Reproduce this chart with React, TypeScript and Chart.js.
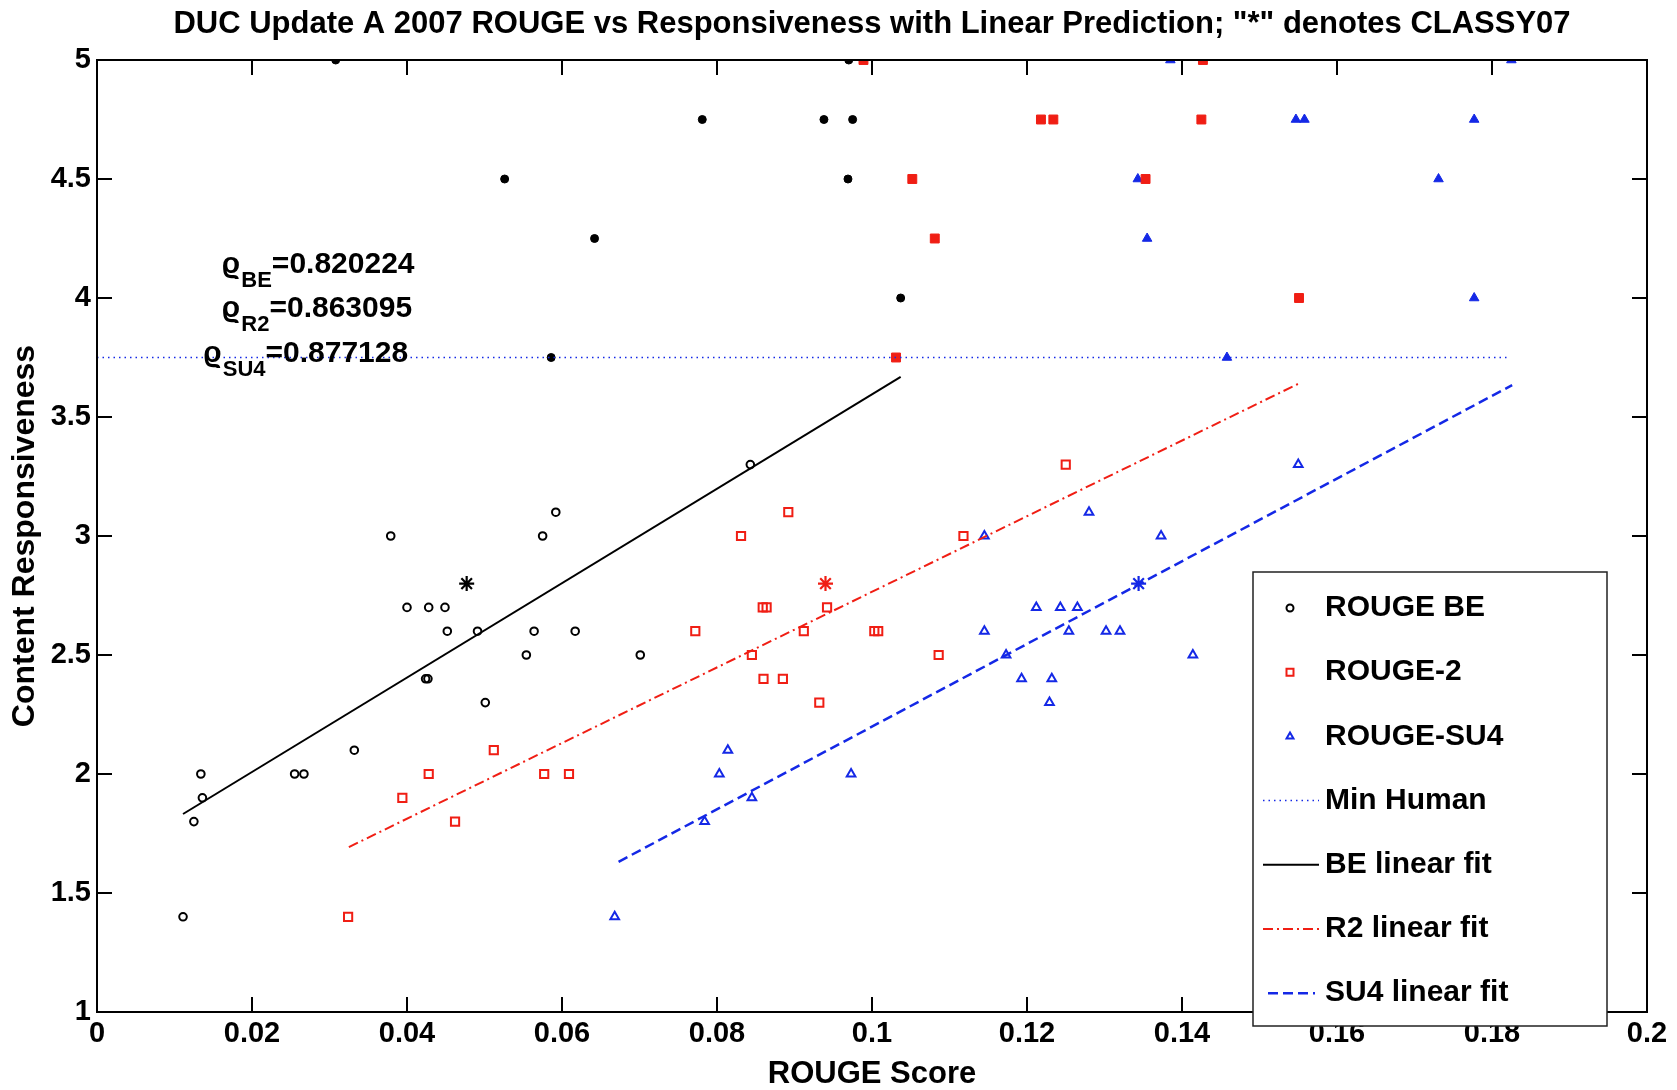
import React, { useEffect, useRef } from 'react';
import { Chart, registerables } from 'chart.js';

Chart.register(...registerables);

const FONT = "'Liberation Sans', Arial, Helvetica, 'DejaVu Sans', sans-serif";
const BLACK = '#000000';
const RED = '#f01e14';
const BLUE = '#1428e6';

// ---- data ----
const beOpenX = [0.0111, 0.0125, 0.0136, 0.0134, 0.0255, 0.0267, 0.0332, 0.0379, 0.04, 0.0428, 0.0449, 0.0424, 0.0427, 0.0452, 0.0491, 0.0501, 0.0554, 0.0564, 0.0575, 0.0592, 0.0617, 0.0701, 0.0843];
const beOpenY = [1.4, 1.8, 1.9, 2.0, 2.0, 2.0, 2.1, 3.0, 2.7, 2.7, 2.7, 2.4, 2.4, 2.6, 2.6, 2.3, 2.5, 2.6, 3.0, 3.1, 2.6, 2.5, 3.3];
const beHumanX = [0.0308, 0.097, 0.0781, 0.0938, 0.0975, 0.0526, 0.0969, 0.0642, 0.1037, 0.0586];
const beHumanY = [5, 5, 4.75, 4.75, 4.75, 4.5, 4.5, 4.25, 4.0, 3.75];

const r2OpenX = [0.0324, 0.0394, 0.0428, 0.0462, 0.0512, 0.0577, 0.0609, 0.0772, 0.0831, 0.0845, 0.086, 0.0859, 0.0864, 0.0885, 0.0892, 0.0912, 0.0932, 0.0942, 0.1003, 0.1008, 0.1086, 0.1118, 0.125];
const r2OpenY = [1.4, 1.9, 2.0, 1.8, 2.1, 2.0, 2.0, 2.6, 3.0, 2.5, 2.4, 2.7, 2.7, 2.4, 3.1, 2.6, 2.3, 2.7, 2.6, 2.6, 2.5, 3.0, 3.3];
const r2HumanX = [0.0989, 0.1427, 0.1218, 0.1234, 0.1425, 0.1052, 0.1353, 0.1081, 0.1551, 0.1031];
const r2HumanY = [5, 5, 4.75, 4.75, 4.75, 4.5, 4.5, 4.25, 4.0, 3.75];

const su4OpenX = [0.0668, 0.0784, 0.0803, 0.0814, 0.0845, 0.0973, 0.1145, 0.1145, 0.1173, 0.1193, 0.1212, 0.1229, 0.1232, 0.1243, 0.1254, 0.1265, 0.128, 0.1302, 0.132, 0.1373, 0.1414, 0.155];
const su4OpenY = [1.4, 1.8, 2.0, 2.1, 1.9, 2.0, 3.0, 2.6, 2.5, 2.4, 2.7, 2.3, 2.4, 2.7, 2.6, 2.7, 3.1, 2.6, 2.6, 3.0, 2.5, 3.3];
const su4HumanX = [0.1385, 0.1825, 0.1547, 0.1558, 0.1777, 0.1343, 0.1731, 0.1355, 0.1777, 0.1458];
const su4HumanY = [5, 5, 4.75, 4.75, 4.75, 4.5, 4.5, 4.25, 4.0, 3.75];

const classyX = [0.0477, 0.094, 0.1344];
const classyY = [2.8, 2.8, 2.8];

const beFitX = [0.0111, 0.1037];
const beFitY = [1.832, 3.669];
const r2FitX = [0.0325, 0.1551];
const r2FitY = [1.693, 3.641];
const su4FitX = [0.0673, 0.1826];
const su4FitY = [1.631, 3.634];
const minHumanX = [0, 0.1823];
const minHumanY = [3.75, 3.75];

const corrNames = ['BE', 'R2', 'SU4'];
const corrValues = ['0.820224', '0.863095', '0.877128'];
const corrAnchorX = [0.0161, 0.0161, 0.0137];
const corrAnchorY = [4.105, 3.92, 3.732];

const legendLabels = ['ROUGE BE', 'ROUGE-2', 'ROUGE-SU4', 'Min Human', 'BE linear fit', 'R2 linear fit', 'SU4 linear fit'];

const TITLE = 'DUC Update A 2007 ROUGE vs Responsiveness with Linear Prediction; "*" denotes CLASSY07';

function pts(xs: number[], ys: number[]) {
  return xs.map((x, i) => ({ x, y: ys[i] }));
}

function fmt(v: number) {
  return String(Number(v.toFixed(2)));
}

function drawMarker(ctx: CanvasRenderingContext2D, kind: string, x: number, y: number, color: string) {
  ctx.save();
  ctx.strokeStyle = color;
  ctx.lineWidth = 2;
  ctx.setLineDash([]);
  ctx.beginPath();
  if (kind === 'circle') {
    ctx.arc(x, y, 3.5, 0, Math.PI * 2);
  } else if (kind === 'rect') {
    ctx.rect(x - 3.5, y - 3.5, 7, 7);
  } else {
    const r = 4;
    ctx.moveTo(x, y - r);
    ctx.lineTo(x + r * 0.866, y + r * 0.5);
    ctx.lineTo(x - r * 0.866, y + r * 0.5);
    ctx.closePath();
  }
  ctx.stroke();
  ctx.restore();
}

const overlayPlugin = {
  id: 'matlabOverlay',
  afterDraw(chart: any) {
    const { ctx, chartArea: a, scales } = chart;
    const xs = scales.x;
    const ys = scales.y;
    ctx.save();

    // inward ticks on all four sides
    const TL = 15;
    ctx.strokeStyle = BLACK;
    ctx.lineWidth = 2;
    ctx.setLineDash([]);
    ctx.beginPath();
    xs.ticks.forEach((t: any) => {
      const p = xs.getPixelForValue(t.value);
      if (p <= a.left + 1 || p >= a.right - 1) return;
      ctx.moveTo(p, a.bottom);
      ctx.lineTo(p, a.bottom - TL);
      ctx.moveTo(p, a.top);
      ctx.lineTo(p, a.top + TL);
    });
    ys.ticks.forEach((t: any) => {
      const p = ys.getPixelForValue(t.value);
      if (p <= a.top + 1 || p >= a.bottom - 1) return;
      ctx.moveTo(a.left, p);
      ctx.lineTo(a.left + TL, p);
      ctx.moveTo(a.right, p);
      ctx.lineTo(a.right - TL, p);
    });
    ctx.stroke();

    // frame
    ctx.strokeRect(a.left, a.top, a.right - a.left, a.bottom - a.top);

    // title
    ctx.fillStyle = BLACK;
    ctx.font = `bold 31px ${FONT}`;
    ctx.textAlign = 'center';
    ctx.textBaseline = 'middle';
    ctx.fillText(TITLE, (a.left + a.right) / 2, 24);

    // correlation annotations
    ctx.textAlign = 'left';
    ctx.textBaseline = 'alphabetic';
    corrNames.forEach((name, i) => {
      let px = xs.getPixelForValue(corrAnchorX[i]);
      const py = ys.getPixelForValue(corrAnchorY[i]);
      ctx.font = `bold 30px ${FONT}`;
      ctx.fillText('\u03F1', px, py);
      px += ctx.measureText('\u03F1').width + 1;
      ctx.font = `bold 22px ${FONT}`;
      ctx.fillText(name, px, py + 14);
      px += ctx.measureText(name).width;
      ctx.font = `bold 30px ${FONT}`;
      ctx.fillText('=' + corrValues[i], px, py);
    });

    // legend box
    const L = { left: 1253, top: 572, right: 1607, bottom: 1026 };
    ctx.fillStyle = '#ffffff';
    ctx.fillRect(L.left, L.top, L.right - L.left, L.bottom - L.top);
    ctx.strokeStyle = '#222222';
    ctx.lineWidth = 1.5;
    ctx.strokeRect(L.left, L.top, L.right - L.left, L.bottom - L.top);

    const rowY = (i: number) => L.top + 36 + i * 64.2;
    const lx0 = 1263;
    const lx1 = 1319;
    const mx = 1290;
    drawMarker(ctx, 'circle', mx, rowY(0), BLACK);
    drawMarker(ctx, 'rect', mx, rowY(1), RED);
    drawMarker(ctx, 'triangle', mx, rowY(2), BLUE);

    const lineSample = (i: number, color: string, dash: number[], w: number, x0 = lx0, x1 = lx1) => {
      ctx.save();
      ctx.strokeStyle = color;
      ctx.lineWidth = w;
      ctx.setLineDash(dash);
      ctx.beginPath();
      ctx.moveTo(x0, rowY(i));
      ctx.lineTo(x1, rowY(i));
      ctx.stroke();
      ctx.restore();
    };
    lineSample(3, BLUE, [1.5, 4], 1.5);
    lineSample(4, BLACK, [], 2);
    lineSample(5, RED, [10, 4, 2, 4], 2);
    lineSample(6, BLUE, [10, 5], 2.5, 1268, 1315);

    ctx.fillStyle = BLACK;
    ctx.font = `bold 30px ${FONT}`;
    ctx.textAlign = 'left';
    ctx.textBaseline = 'middle';
    legendLabels.forEach((lab, i) => ctx.fillText(lab, 1325, rowY(i)));

    ctx.restore();
  },
};

export default function App() {
  const ref = useRef<HTMLCanvasElement | null>(null);

  useEffect(() => {
    if (!ref.current) return;
    Chart.defaults.font.family = FONT;
    Chart.defaults.color = BLACK;

    const openPoint = (color: string, style: string, r: number) => ({
      pointStyle: style,
      pointRadius: r,
      pointBorderWidth: 2,
      pointBackgroundColor: 'rgba(0,0,0,0)',
      pointBorderColor: color,
      borderColor: color,
      backgroundColor: 'rgba(0,0,0,0)',
      showLine: false,
    });
    const filledPoint = (color: string, style: string, r: number) => ({
      pointStyle: style,
      pointRadius: r,
      pointBorderWidth: 1,
      pointBackgroundColor: color,
      pointBorderColor: color,
      borderColor: color,
      backgroundColor: color,
      showLine: false,
    });
    const line = (color: string, dash: number[], w: number) => ({
      showLine: true,
      pointRadius: 0,
      borderColor: color,
      borderWidth: w,
      borderDash: dash,
      fill: false,
      tension: 0,
    });

    const chart = new Chart(ref.current, {
      type: 'scatter',
      data: {
        datasets: [
          { label: 'Min Human', data: pts(minHumanX, minHumanY), ...line(BLUE, [1.5, 4], 1.5) },
          { label: 'BE linear fit', data: pts(beFitX, beFitY), ...line(BLACK, [], 2) },
          { label: 'R2 linear fit', data: pts(r2FitX, r2FitY), ...line(RED, [10, 4, 2, 4], 2) },
          { label: 'SU4 linear fit', data: pts(su4FitX, su4FitY), ...line(BLUE, [10, 5], 2.5) },
          { label: 'ROUGE BE', data: pts(beOpenX, beOpenY), ...openPoint(BLACK, 'circle', 3.8) },
          { label: 'ROUGE-2', data: pts(r2OpenX, r2OpenY), ...openPoint(RED, 'rect', 5.8) },
          { label: 'ROUGE-SU4', data: pts(su4OpenX, su4OpenY), ...openPoint(BLUE, 'triangle', 5) },
          { label: 'BE human', data: pts(beHumanX, beHumanY), ...filledPoint(BLACK, 'circle', 4) },
          { label: 'R2 human', data: pts(r2HumanX, r2HumanY), ...filledPoint(RED, 'rect', 6.3) },
          { label: 'SU4 human', data: pts(su4HumanX, su4HumanY), ...filledPoint(BLUE, 'triangle', 5.5) },
          {
            label: 'CLASSY07',
            data: pts(classyX, classyY),
            pointStyle: 'star',
            pointRadius: 7.5,
            pointBorderWidth: 2.2,
            pointBorderColor: [BLACK, RED, BLUE],
            pointBackgroundColor: [BLACK, RED, BLUE],
            showLine: false,
          },
        ],
      },
      options: {
        responsive: false,
        animation: false,
        events: [],
        layout: { padding: { left: 0, top: 60, right: 30, bottom: 0 } },
        plugins: {
          legend: { display: false },
          title: { display: false },
          tooltip: { enabled: false },
        },
        scales: {
          x: {
            type: 'linear',
            min: 0,
            max: 0.2,
            grid: { display: false, drawTicks: false },
            border: { display: false },
            ticks: {
              stepSize: 0.02,
              padding: 5,
              color: BLACK,
              font: { size: 29, weight: 'bold', family: FONT },
              callback: (v: any) => fmt(Number(v)),
              maxRotation: 0,
              autoSkip: false,
            },
            title: {
              display: true,
              text: 'ROUGE Score',
              color: BLACK,
              font: { size: 31, weight: 'bold', family: FONT, lineHeight: 1.0 },
              padding: { top: 0, bottom: 0 },
            },
            afterFit: (s: any) => {
              s.height = 78;
            },
          },
          y: {
            type: 'linear',
            min: 1,
            max: 5,
            grid: { display: false, drawTicks: false },
            border: { display: false },
            ticks: {
              stepSize: 0.5,
              padding: 6,
              color: BLACK,
              font: { size: 29, weight: 'bold', family: FONT },
              callback: (v: any) => fmt(Number(v)),
              autoSkip: false,
            },
            title: {
              display: true,
              text: 'Content Responsiveness',
              color: BLACK,
              font: { size: 32, weight: 'bold', family: FONT, lineHeight: 1.0 },
              padding: { top: 9, bottom: 0 },
            },
            afterFit: (s: any) => {
              s.width = 97;
            },
          },
        },
      },
      plugins: [overlayPlugin],
    } as any);

    return () => chart.destroy();
  }, []);

  return (
    <div style={{ position: 'fixed', left: 0, top: 0, width: 1677, height: 1090, background: '#ffffff' }}>
      <canvas ref={ref} width={1677} height={1090} style={{ display: 'block', width: 1677, height: 1090 }} />
    </div>
  );
}
